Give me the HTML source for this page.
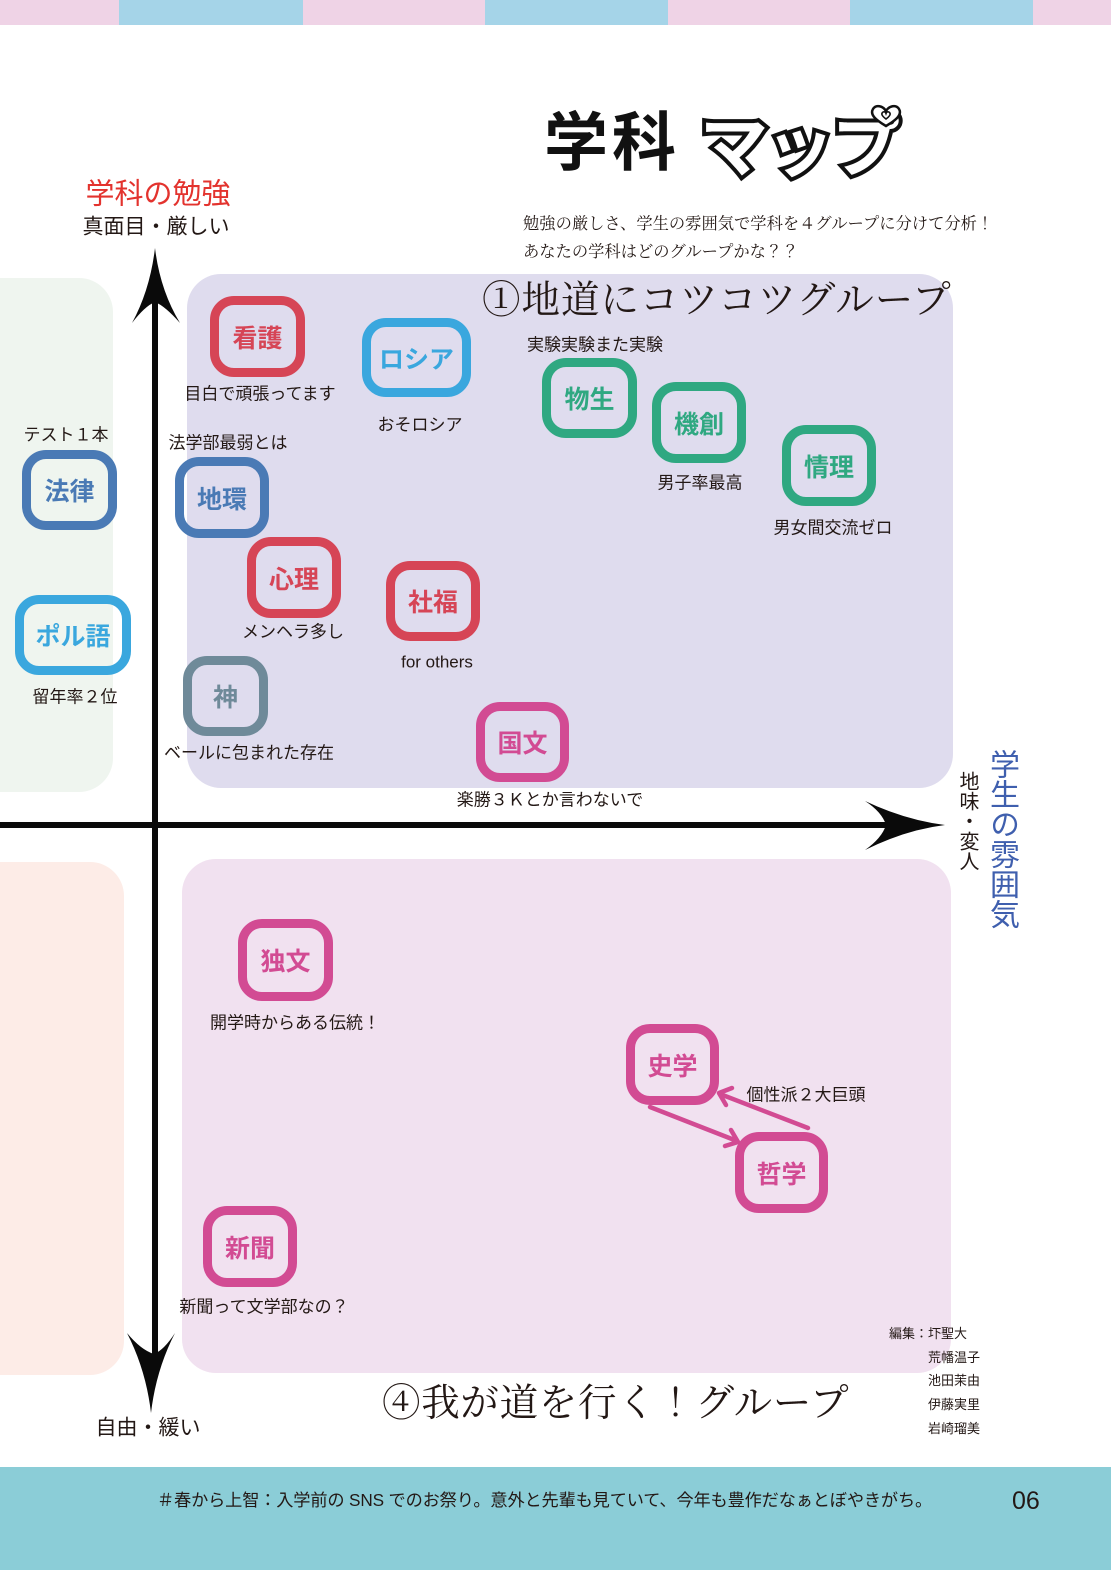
<!DOCTYPE html>
<html lang="ja">
<head>
<meta charset="utf-8">
<style>
  html,body{margin:0;padding:0;}
  body{width:1111px;height:1570px;position:relative;overflow:hidden;background:#ffffff;
    font-family:"Liberation Sans","Noto Sans CJK JP",sans-serif;color:#231815;}
  .abs{position:absolute;}
  .c{position:absolute;white-space:nowrap;transform:translate(-50%,-50%);line-height:1;}
  .l{position:absolute;white-space:nowrap;line-height:1;}
  .lbl{font-size:17px;}
  .node{position:absolute;box-sizing:border-box;border:9px solid;border-radius:24px;
    display:flex;align-items:center;justify-content:center;font-weight:700;font-size:25px;
    font-family:"Noto Sans CJK JP",sans-serif;letter-spacing:0px;}
  .red{border-color:#d64556;color:#d64556;}
  .steel{border-color:#4a7ab5;color:#4a7ab5;}
  .sky{border-color:#3aa7de;color:#3aa7de;}
  .green{border-color:#2fa881;color:#2fa881;}
  .gray{border-color:#6f8a99;color:#6f8a99;}
  .mag{border-color:#d24b93;color:#d24b93;}
  .serif{font-family:"Liberation Serif","Noto Serif CJK SC",serif;}
</style>
</head>
<body>

<!-- top banner -->
<div class="abs" style="left:0;top:0;width:119px;height:25px;background:#efd3e6"></div>
<div class="abs" style="left:119px;top:0;width:184px;height:25px;background:#a5d4e8"></div>
<div class="abs" style="left:303px;top:0;width:182px;height:25px;background:#efd3e6"></div>
<div class="abs" style="left:485px;top:0;width:183px;height:25px;background:#a5d4e8"></div>
<div class="abs" style="left:668px;top:0;width:182px;height:25px;background:#efd3e6"></div>
<div class="abs" style="left:850px;top:0;width:183px;height:25px;background:#a5d4e8"></div>
<div class="abs" style="left:1033px;top:0;width:78px;height:25px;background:#efd3e6"></div>

<!-- panels -->
<div class="abs" style="left:-40px;top:278px;width:153px;height:514px;background:#eff5ef;border-radius:34px"></div>
<div class="abs" style="left:187px;top:274px;width:766px;height:514px;background:#dfdcee;border-radius:34px"></div>
<div class="abs" style="left:-40px;top:862px;width:164px;height:513px;background:#fdece7;border-radius:34px"></div>
<div class="abs" style="left:182px;top:859px;width:769px;height:514px;background:#f1e1f0;border-radius:34px"></div>

<!-- footer -->
<div class="abs" style="left:0;top:1467px;width:1111px;height:103px;background:#8bcdd7"></div>

<!-- title -->
<div class="l" style="left:544px;top:106px;font-size:64px;font-weight:700;font-family:'Noto Sans CJK JP',sans-serif;color:#111;letter-spacing:4px;">学科</div>
<div class="l" style="left:700px;top:108px;font-size:68px;font-weight:700;font-family:'Noto Sans CJK JP',sans-serif;color:#111;-webkit-text-stroke:8px #111;letter-spacing:-2px;">マップ</div>
<div class="l" style="left:700px;top:108px;font-size:68px;font-weight:700;font-family:'Noto Sans CJK JP',sans-serif;color:#fff;letter-spacing:-2px;">マップ</div>
<svg class="abs" style="left:866px;top:103px" width="40" height="26" viewBox="0 0 40 26">
  <path d="M20 23 C8 16 4 11 7 6 C10 1 17 3 20 8 C23 3 30 1 33 6 C36 11 32 16 20 23 Z" fill="#fff" stroke="#111" stroke-width="2.5"/>
  <path d="M20 16 C16 13 15 11 16.5 9.5 C18 8 19.5 9 20 10.5 C20.5 9 22 8 23.5 9.5 C25 11 24 13 20 16 Z" fill="#fff" stroke="#111" stroke-width="1.6"/>
</svg>

<!-- subtitle -->
<div class="l serif" style="left:523px;top:216px;font-size:16.3px;">勉強の厳しさ、学生の雰囲気で学科を４グループに分けて分析！</div>
<div class="l serif" style="left:523px;top:244px;font-size:16.3px;">あなたの学科はどのグループかな？？</div>

<!-- axis labels -->
<div class="c" style="left:158px;top:195px;font-size:29px;color:#e3332e;">学科の勉強</div>
<div class="c" style="left:156px;top:227px;font-size:21px;">真面目・厳しい</div>
<div class="c" style="left:148px;top:1428px;font-size:21px;">自由・緩い</div>
<div class="abs" style="left:956px;top:771px;font-size:20px;writing-mode:vertical-rl;line-height:22px;">地味・変人</div>
<div class="abs" style="left:985px;top:749px;font-size:30px;writing-mode:vertical-rl;line-height:32px;color:#3f5fae;">学生の雰囲気</div>

<!-- group headings -->
<div class="l serif" style="left:482px;top:282px;font-size:38.5px;letter-spacing:1px;">①地道にコツコツグループ</div>
<div class="l serif" style="left:382px;top:1385px;font-size:38.5px;letter-spacing:0.7px;">④我が道を行く！グループ</div>

<!-- axes -->
<svg class="abs" style="left:0;top:0" width="1111" height="1570" viewBox="0 0 1111 1570">
  <rect x="152" y="300" width="6" height="1055" fill="#0a0a0a"/>
  <rect x="0" y="822" width="890" height="6" fill="#0a0a0a"/>
  <path d="M155 248 Q160 290 180 323 Q165 306 155 302 Q145 306 132 323 Q150 290 155 248 Z" fill="#0a0a0a"/>
  <path d="M151 1413 Q146 1370 127 1333 Q141 1350 154 1354 Q164 1350 175 1333 Q156 1370 151 1413 Z" fill="#0a0a0a"/>
  <path d="M945 825 Q905 830 865 850 Q882 838 886 825 Q882 812 865 801 Q905 820 945 825 Z" fill="#0a0a0a"/>
  <g stroke="#d24b93" stroke-width="4.5" fill="none" stroke-linecap="round" stroke-linejoin="round">
    <line x1="650" y1="1107" x2="737" y2="1141"/>
    <polyline points="731,1130 738,1142 725,1146"/>
    <line x1="808" y1="1128" x2="720" y2="1094"/>
    <polyline points="726,1105 719,1093 732,1088"/>
  </g>
</svg>

<!-- nodes -->
<div class="node red" style="left:210px;top:296px;width:95px;height:81px;">看護</div>
<div class="node sky" style="left:362px;top:318px;width:109px;height:79px;">ロシア</div>
<div class="node green" style="left:542px;top:358px;width:95px;height:80px;">物生</div>
<div class="node green" style="left:652px;top:382px;width:94px;height:81px;">機創</div>
<div class="node green" style="left:782px;top:425px;width:94px;height:81px;">情理</div>
<div class="node steel" style="left:22px;top:450px;width:95px;height:80px;">法律</div>
<div class="node steel" style="left:175px;top:457px;width:94px;height:81px;">地環</div>
<div class="node red" style="left:247px;top:537px;width:94px;height:81px;">心理</div>
<div class="node red" style="left:386px;top:561px;width:94px;height:80px;">社福</div>
<div class="node sky" style="left:15px;top:595px;width:116px;height:80px;">ポル語</div>
<div class="node gray" style="left:183px;top:656px;width:85px;height:80px;">神</div>
<div class="node mag" style="left:476px;top:702px;width:93px;height:80px;">国文</div>
<div class="node mag" style="left:238px;top:919px;width:95px;height:82px;">独文</div>
<div class="node mag" style="left:626px;top:1024px;width:93px;height:81px;">史学</div>
<div class="node mag" style="left:735px;top:1132px;width:93px;height:81px;">哲学</div>
<div class="node mag" style="left:203px;top:1206px;width:94px;height:81px;">新聞</div>

<!-- node labels -->
<div class="c lbl" style="left:260px;top:394px;">目白で頑張ってます</div>
<div class="c lbl" style="left:66px;top:435px;">テスト１本</div>
<div class="c lbl" style="left:228px;top:443px;">法学部最弱とは</div>
<div class="c lbl" style="left:420px;top:425px;">おそロシア</div>
<div class="c lbl" style="left:595px;top:345px;">実験実験また実験</div>
<div class="c lbl" style="left:700px;top:483px;">男子率最高</div>
<div class="c lbl" style="left:833px;top:528px;">男女間交流ゼロ</div>
<div class="c lbl" style="left:293px;top:632px;">メンヘラ多し</div>
<div class="c lbl" style="left:437px;top:662px;font-family:'Liberation Sans',sans-serif;">for others</div>
<div class="c lbl" style="left:75px;top:697px;">留年率２位</div>
<div class="c lbl" style="left:249px;top:753px;">ベールに包まれた存在</div>
<div class="c lbl" style="left:550px;top:800px;">楽勝３Ｋとか言わないで</div>
<div class="c lbl" style="left:295px;top:1023px;">開学時からある伝統！</div>
<div class="c lbl" style="left:806px;top:1095px;">個性派２大巨頭</div>
<div class="c lbl" style="left:264px;top:1307px;">新聞って文学部なの？</div>

<!-- credits -->
<div class="l" style="left:889px;top:1327px;font-size:13px;">編集：圷聖大</div>
<div class="l" style="left:928px;top:1351px;font-size:13px;">荒幡温子</div>
<div class="l" style="left:928px;top:1374px;font-size:13px;">池田茉由</div>
<div class="l" style="left:928px;top:1398px;font-size:13px;">伊藤実里</div>
<div class="l" style="left:928px;top:1422px;font-size:13px;">岩崎瑠美</div>

<!-- footer text -->
<div class="l" style="left:157px;top:1492px;font-size:17.2px;letter-spacing:-0.15px;">＃春から上智：入学前の SNS でのお祭り。意外と先輩も見ていて、今年も豊作だなぁとぼやきがち。</div>
<div class="l" style="left:1012px;top:1489px;font-size:25px;">06</div>

</body>
</html>
